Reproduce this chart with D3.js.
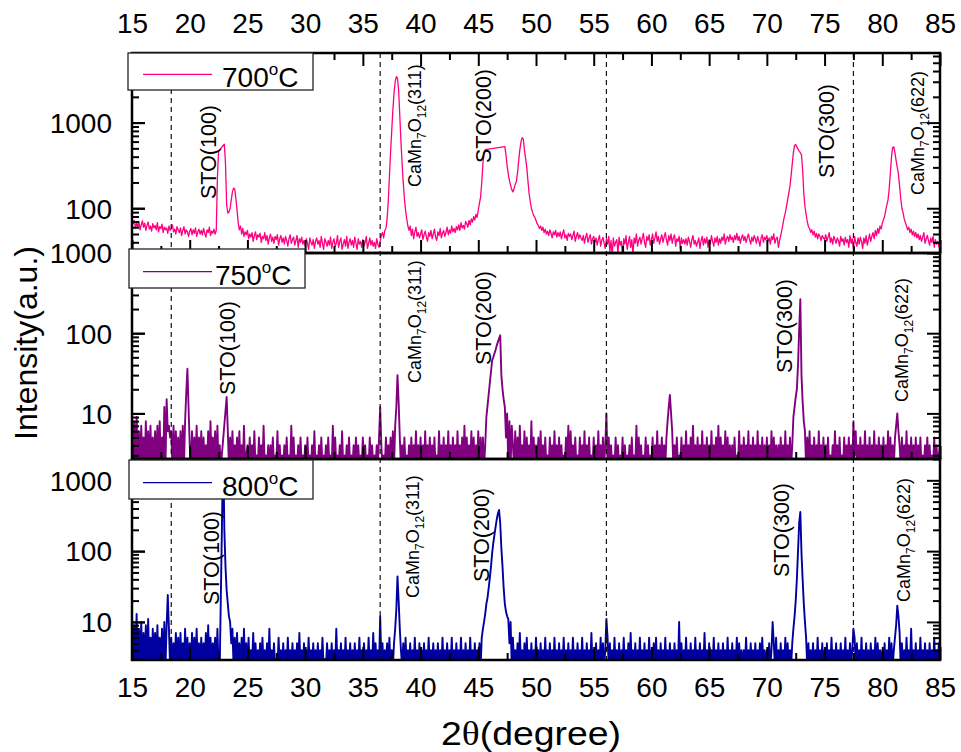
<!DOCTYPE html>
<html><head><meta charset="utf-8">
<script src="https://cdn.jsdelivr.net/npm/d3@7"></script>
<style>
body{margin:0;background:#fff}
svg{display:block;font-family:"Liberation Sans",Arial,Helvetica,sans-serif}
</style>
</head><body>
<svg id="chart" width="961" height="752"></svg>
<script>
// ---------------- DATA ----------------
// sampling grid: each row = one degree (x.0 ... x.9), last row = 85.0
const angleStart = 15, angleStep = 0.1;
const xMajorTicks = [15,20,25,30,35,40,45,50,55,60,65,70,75,80,85];
const xMinorTicks = [17.5,22.5,27.5,32.5,37.5,42.5,47.5,52.5,57.5,62.5,67.5,72.5,77.5,82.5];
const seriesNames = ["700", "750", "800"];
const yLabelTicks700 = [100, 1000];
const yLabelTicks750 = [10, 100, 1000];
const yLabelTicks800 = [10, 100, 1000];
const dashedAngles = [18.4, 36.5, 56.1, 77.5];
const labelSTO100 = [["STO(100)",0]];
const labelSTO200 = [["STO(200)",0]];
const labelSTO300 = [["STO(300)",0]];
const labelCaMn311 = [["CaMn",0],["7",1],["O",0],["12",1],["(311)",0]];
const labelCaMn622 = [["CaMn",0],["7",1],["O",0],["12",1],["(622)",0]];

const intensity700 = [
[80,66,72,58,68,60,70,56,64,71],
[60,67,55,63,69,57,62,54,66,59],
[63,56,68,53,61,58,65,52,60,56],
[59,51,62,55,58,64,53,57,50,61],
[56,52,59,48,55,61,50,56,53,47],
[54,58,49,56,51,59,47,53,57,50],
[55,49,58,51,46,56,52,60,48,54],
[51,57,50,55,230,460,480,500,520,540],
[560,330,110,88,90,100,125,155,172,168],
[130,95,68,56,62,50,58,47,53,49],
[55,44,50,46,52,41,48,53,43,49],
[46,51,40,47,44,52,42,48,38,45],
[50,41,46,39,47,43,49,37,44,48],
[40,45,38,47,42,36,44,49,39,43],
[46,37,42,48,35,44,40,46,38,42],
[36,44,39,33,45,40,37,43,34,41],
[45,38,42,35,47,39,33,44,40,36],
[42,37,46,34,40,44,36,39,48,35],
[41,45,33,38,43,36,47,34,40,44],
[37,42,35,46,39,33,44,38,41,35],
[43,36,40,47,34,39,45,37,42,36],
[40,34,44,38,35,41,48,52,45,55],
[58,75,120,230,450,800,1400,2200,3000,3450],
[3300,2400,1200,600,330,200,130,95,75,62],
[55,62,48,57,44,53,60,47,52,45],
[50,56,43,49,54,46,41,52,47,55],
[44,50,57,46,42,53,48,58,45,51],
[55,47,52,60,49,56,51,62,53,58],
[52,61,56,64,55,68,59,63,57,70],
[66,60,72,64,75,69,80,73,85,78],
[95,115,135,200,330,440,484,null,null,null],
[null,null,null,null,null,null,null,null,null,null],
[null,null,null,525,420,310,250,210,185,165],
[155,170,190,205,260,360,480,600,667,640],
[480,380,300,210,150,120,100,90,82,78],
[72,66,63,58,62,55,60,52,57,50],
[54,48,56,51,45,53,49,55,46,52],
[47,53,44,50,56,45,49,42,51,47],
[50,43,48,54,41,47,52,44,49,45],
[42,48,39,46,51,40,45,49,38,44],
[47,40,45,37,43,48,36,42,46,39],
[34,44,38,47,31,42,28,45,36,40],
[43,30,46,37,41,27,44,38,48,33],
[40,47,35,43,29,45,39,50,36,42],
[46,38,44,51,40,35,47,42,49,37],
[43,50,39,45,53,41,47,38,44,49],
[40,46,52,43,37,48,42,50,39,45],
[49,36,44,41,47,34,45,39,43,38],
[44,37,46,41,35,43,48,38,42,36],
[40,45,34,42,47,37,44,39,46,35],
[43,38,48,41,36,45,40,47,37,44],
[39,46,42,50,38,44,47,41,49,43],
[46,40,48,43,51,42,47,39,45,49],
[42,47,40,45,50,43,38,46,41,48],
[44,39,47,42,36,45,49,40,46,43],
[48,41,45,38,47,43,50,39,44,46],
[35,42,48,56,66,78,89,105,125,150],
[180,240,330,450,540,555,520,490,465,445],
[420,280,150,105,85,70,61,58,52,56],
[49,54,46,51,44,50,47,42,48,45],
[43,49,41,46,52,40,45,38,47,43],
[39,45,42,36,47,41,44,37,46,40],
[43,35,48,39,44,33,47,40,36,45],
[38,46,41,34,45,39,48,37,43,50],
[41,47,52,44,55,48,58,51,62,57],
[66,74,80,95,110,126,170,260,400,510],
[520,440,360,300,250,180,130,100,89,75],
[68,62,56,60,52,57,49,54,47,52],
[45,50,43,48,41,46,52,39,44,48],
[42,37,45,40,47,35,43,38,41,36],
[33]
];

const intensity750 = [
[10,1,8,2,9,1,6,1,7,2],
[5,1,8,1,6,2,7,1,5,1],
[6,2,7,1,8,1,5,2,12,1],
[15,6,7,5,6,1,7,2,6,1],
[5,2,6,1,7,2,8,18,36,12],
[4,1,6,2,5,1,7,2,5,1],
[6,2,5,1,4,2,6,1,8,2],
[5,1,6,2,7,1,4,1,null,null],
[null,null,16,6,1,5,2,6,1,4],
[2,5,1,6,1,4,2,7,1,3],
[4,1,5,2,4,1,6,1,3,2],
[5,1,4,2,7,1,3,1,4,2],
[4,1,5,1,3,2,6,1,4,1],
[3,2,4,1,5,1,3,1,7,2],
[5,1,3,2,4,1,5,1,3,1],
[4,2,5,1,3,1,4,2,6,1],
[3,1,4,2,5,1,3,1,4,2],
[5,1,3,1,7,2,5,1,3,1],
[4,2,6,1,3,1,4,2,5,1],
[3,1,4,2,5,1,4,1,3,2],
[5,1,4,1,3,2,5,1,4,1],
[3,2,4,1,5,12,4,1,3,2],
[5,1,4,2,5,1,6,2,7,12],
[30,14,5,1,4,2,5,1,3,2],
[4,1,5,2,4,1,6,1,4,2],
[5,1,4,1,6,2,4,1,5,1],
[4,2,5,1,3,1,6,2,4,1],
[5,1,4,2,6,1,4,1,5,2],
[4,1,6,1,4,2,5,1,7,1],
[5,2,4,1,6,1,5,2,4,1],
[6,1,5,2,5,1,4,9,null,null],
[null,null,46,50,56,62,70,78,86,94],
[30,20,15,12,5,10,2,8,1,7],
[4,1,6,2,5,1,7,1,4,2],
[6,1,5,1,4,2,8,1,5,1],
[4,2,5,1,6,1,4,2,5,1],
[3,1,5,2,4,1,6,1,4,2],
[5,1,4,1,3,2,5,1,7,1],
[6,2,4,1,5,1,3,2,5,1],
[4,1,6,1,4,2,5,1,3,1],
[5,2,4,1,6,1,4,2,5,1],
[4,10,1,5,2,4,1,3,2,5],
[1,4,2,3,1,5,1,4,2,3],
[1,4,1,5,2,3,1,7,1,5],
[2,4,1,3,1,5,2,4,1,3],
[1,5,2,4,1,6,1,4,2,5],
[1,4,2,5,8,12,17,10,6,1],
[4,2,5,1,3,1,5,2,4,1],
[6,1,4,2,5,1,7,1,4,2],
[5,1,4,1,6,2,4,1,5,1],
[4,2,6,1,4,1,5,2,7,1],
[5,1,4,2,6,1,5,1,4,2],
[4,1,5,1,3,2,6,1,4,1],
[5,2,4,1,6,1,4,2,5,1],
[4,1,6,2,4,1,5,1,4,2],
[5,1,4,1,6,2,5,1,4,1],
[4,2,5,1,4,1,6,2,4,1],
[5,1,4,9,12,16,20,40,110,265],
[30,14,8,6,2,5,1,6,2,4],
[1,5,2,4,1,6,1,4,2,5],
[1,4,1,5,2,3,1,4,1,6],
[2,4,1,5,1,3,2,5,1,4],
[1,5,2,4,1,8,3,6,2,4],
[1,5,1,4,2,6,1,4,2,5],
[1,4,2,6,1,4,1,5,2,4],
[1,5,2,4,1,6,2,5,1,4],
[2,5,7,10,6,4,1,5,2,4],
[1,6,2,4,1,5,1,4,2,5],
[1,4,2,5,1,3,1,4,2,5],
[1,4,1,3,2,5,1,4,1,3],
[4]
];

const intensity800 = [
[12,1,9,2,13,1,8,2,10,1],
[7,2,9,1,11,1,6,2,8,1],
[7,1,9,2,6,1,8,2,10,1],
[9,24,8,1,6,2,5,1,7,2],
[6,1,7,2,5,1,8,1,6,2],
[5,1,7,1,6,2,8,1,5,2],
[6,1,5,2,7,1,9,1,6,2],
[5,1,6,2,8,1,1,null,null,3000],
[200,60,28,18,12,10,5,8,2,6],
[1,7,2,5,1,6,1,8,2,5],
[1,6,1,4,2,7,1,5,1,4],
[2,5,1,6,1,4,2,5,1,8],
[1,4,2,5,1,3,1,6,2,4],
[1,5,1,4,2,6,1,4,1,5],
[2,4,1,5,1,7,2,4,1,5],
[1,4,2,6,1,4,1,5,2,4],
[1,5,1,4,2,6,1,3,1,5],
[2,4,1,5,1,4,2,8,1,4],
[1,5,2,4,1,6,1,4,2,5],
[1,4,1,5,2,4,1,6,1,4],
[2,5,1,4,1,6,2,4,1,7],
[1,5,2,4,1,12,3,5,2,4],
[1,5,2,6,1,4,2,5,8,15],
[44,20,8,4,1,5,2,6,1,4],
[2,5,1,4,1,6,2,4,1,5],
[1,4,2,5,1,4,1,6,2,4],
[1,5,1,4,2,5,1,4,1,6],
[2,4,1,5,1,4,2,6,1,4],
[1,5,2,4,1,6,1,4,2,5],
[1,4,1,6,2,4,1,5,1,4],
[2,5,1,6,8,10,13,18,22,30],
[42,60,94,130,170,220,280,340,381,250],
[110,60,30,18,14,12,11,5,10,1],
[6,2,4,1,5,1,7,2,4,1],
[5,1,6,2,4,1,5,1,4,2],
[6,1,4,1,5,2,4,1,6,1],
[4,2,5,1,4,1,6,2,4,1],
[5,1,4,2,6,1,4,1,5,2],
[4,1,6,1,4,2,5,1,4,1],
[6,2,4,1,5,1,4,2,7,1],
[4,1,5,2,4,1,6,1,5,2],
[4,11,6,1,5,2,4,1,6,1],
[4,2,5,1,4,1,6,2,4,1],
[5,1,7,2,4,1,5,1,4,2],
[6,1,4,1,5,2,4,1,6,1],
[4,2,5,1,6,1,4,2,5,1],
[4,1,6,2,4,1,5,1,4,2],
[5,1,4,1,10,2,5,1,4,1],
[6,2,4,1,5,1,4,2,6,1],
[4,1,5,2,4,1,7,1,4,2],
[5,1,4,1,6,2,4,1,5,1],
[4,2,5,1,4,1,6,2,4,1],
[5,1,4,2,6,1,5,1,4,2],
[4,1,6,1,4,2,5,1,4,1],
[5,2,4,1,5,1,6,2,4,1],
[4,1,5,2,4,10,5,1,6,2],
[4,1,5,1,4,2,6,1,5,1],
[4,2,5,8,12,20,40,100,250,357],
[94,40,18,10,6,1,5,2,4,1],
[5,2,4,1,6,1,4,2,5,1],
[4,1,5,1,4,2,6,1,4,1],
[5,2,4,1,5,1,4,2,6,1],
[4,1,5,2,4,8,6,1,5,2],
[4,1,6,1,4,2,5,1,4,1],
[5,2,4,1,6,1,5,2,4,1],
[4,1,5,1,4,2,6,1,5,2],
[4,6,9,17,12,7,1,5,2,4],
[1,6,2,4,1,8,1,4,2,5],
[1,4,2,6,1,4,1,5,2,4],
[1,5,1,4,2,6,1,4,1,5],
[3]
];

// ---------------- LAYOUT / STYLE ----------------
const plotLeft = 132, plotRight = 940;
const colors = {"700":"#ff0080", "750":"#800080", "800":"#0000a0"};
const lineWidths = {"700":1.3, "750":1.9, "800":1.9};
const panels = [
  {name:"700", data:intensity700, top:53,  bottom:253, domain:[30,6500], labelTicks:yLabelTicks700,
   legend:{x:128,y:53,w:185,h:37,textX:222},
   ann:[{parts:labelSTO100,a:22.28,y:199},{parts:labelCaMn311,a:40.05,y:187},{parts:labelSTO200,a:46.1,y:163},{parts:labelSTO300,a:75.82,y:178},{parts:labelCaMn622,a:83.6,y:195}]},
  {name:"750", data:intensity750, top:253, bottom:459, domain:[2.7,1000], labelTicks:yLabelTicks750,
   legend:{x:129,y:249,w:176,h:39,textX:215},
   ann:[{parts:labelSTO100,a:23.92,y:395},{parts:labelCaMn311,a:40.05,y:383},{parts:labelSTO200,a:46.1,y:365},{parts:labelSTO300,a:72.18,y:373},{parts:labelCaMn622,a:82.2,y:402}]},
  {name:"800", data:intensity800, top:459, bottom:660, domain:[2.9,2000], labelTicks:yLabelTicks800,
   legend:{x:129,y:460,w:184,h:39,textX:222},
   ann:[{parts:labelSTO100,a:22.54,y:605},{parts:labelCaMn311,a:39.9,y:598},{parts:labelSTO200,a:45.93,y:582},{parts:labelSTO300,a:71.92,y:577},{parts:labelCaMn622,a:82.4,y:602}]}
];

const svg = d3.select("#chart");
const x = d3.scaleLinear().domain([15,85]).range([plotLeft, plotRight]);

function toPoints(rows){
  const pts = [];
  rows.forEach((row,i)=>row.forEach((v,j)=>{
    if (v !== null) pts.push([angleStart + i + j*angleStep, v]);
  }));
  return pts;
}
function minorLog(domain){
  const out = [];
  for (let p = 0; p <= 4; p++) for (let m = 2; m <= 9; m++) {
    const v = m*Math.pow(10,p);
    if (v >= domain[0] && v <= domain[1]) out.push(v);
  }
  return out;
}
function majorLog(domain){
  const out = [];
  for (let p = 0; p <= 4; p++){ const v = Math.pow(10,p); if (v >= domain[0]-1e-9 && v <= domain[1]+1e-9) out.push(v); }
  return out;
}
function styleAxis(g, showText){
  g.select(".domain").remove();
  g.selectAll(".tick line").attr("stroke","#000").attr("stroke-width",2);
  g.selectAll(".tick text").attr("fill","#000").attr("font-size",28)
    .attr("font-family",'"Liberation Sans",Arial,sans-serif');
  if (!showText) g.selectAll(".tick text").remove();
}

const defs = svg.append("defs");

// data lines
panels.forEach(p => {
  const y = d3.scaleLog().domain(p.domain).range([p.bottom, p.top]);
  p.y = y;
  const cid = "clip" + p.name;
  defs.append("clipPath").attr("id", cid).append("rect")
    .attr("x", plotLeft).attr("y", p.top).attr("width", plotRight-plotLeft).attr("height", p.bottom-p.top);
  const floorV = p.domain[0]*0.8;   // points below the axis are drawn just under the frame (clipped)
  const line = d3.line().x(d=>x(d[0])).y(d=>y(Math.max(d[1], floorV)));
  svg.append("path").datum(toPoints(p.data))
    .attr("clip-path", `url(#${cid})`)
    .attr("fill","none").attr("stroke", colors[p.name]).attr("stroke-width", lineWidths[p.name])
    .attr("stroke-linejoin","round")
    .attr("d", line);
});

// dashed reference lines (full height, over data)
svg.append("g").selectAll("line").data(dashedAngles).join("line")
  .attr("x1", d=>x(d)).attr("x2", d=>x(d))
  .attr("y1", panels[0].top).attr("y2", panels[2].bottom)
  .attr("stroke","#111").attr("stroke-width",1.2).attr("stroke-dasharray","5,4");

panels.forEach((p, idx) => {
  const y = p.y;
  // left axis
  const gl = svg.append("g").attr("transform",`translate(${plotLeft},0)`)
    .call(d3.axisLeft(y).tickValues(p.labelTicks).tickSize(-13).tickPadding(20).tickFormat(d3.format("d")));
  styleAxis(gl, true);
  gl.selectAll(".tick text").attr("dy","0.35em");
  const glm = svg.append("g").attr("transform",`translate(${plotLeft},0)`)
    .call(d3.axisLeft(y).tickValues(minorLog(p.domain)).tickSize(-7).tickFormat(""));
  styleAxis(glm, false);
  const glM = svg.append("g").attr("transform",`translate(${plotLeft},0)`)
    .call(d3.axisLeft(y).tickValues(majorLog(p.domain)).tickSize(-13).tickFormat(""));
  styleAxis(glM, false);
  // right axis
  const gr = svg.append("g").attr("transform",`translate(${plotRight},0)`)
    .call(d3.axisRight(y).tickValues(majorLog(p.domain)).tickSize(-13).tickFormat(""));
  styleAxis(gr, false);
  const grm = svg.append("g").attr("transform",`translate(${plotRight},0)`)
    .call(d3.axisRight(y).tickValues(minorLog(p.domain)).tickSize(-7).tickFormat(""));
  styleAxis(grm, false);

  // bottom ticks of each panel (inward)
  const gb = svg.append("g").attr("transform",`translate(0,${p.bottom})`)
    .call(d3.axisBottom(x).tickValues(xMajorTicks).tickSize(-13).tickPadding(35).tickFormat(d3.format("d")));
  styleAxis(gb, idx === 2);
  if (idx === 2) gb.selectAll(".tick text").attr("dy","0em").attr("y", 37);
  const gbm = svg.append("g").attr("transform",`translate(0,${p.bottom})`)
    .call(d3.axisBottom(x).tickValues(xMinorTicks).tickSize(-7).tickFormat(""));
  styleAxis(gbm, false);

  if (idx === 0) {
    const gt = svg.append("g").attr("transform",`translate(0,${p.top})`)
      .call(d3.axisTop(x).tickValues(xMajorTicks).tickSize(-13).tickPadding(20).tickFormat(d3.format("d")));
    styleAxis(gt, true);
    const gtm = svg.append("g").attr("transform",`translate(0,${p.top})`)
      .call(d3.axisTop(x).tickValues(xMinorTicks).tickSize(-7).tickFormat(""));
    styleAxis(gtm, false);
  }

  // frame
  svg.append("rect").attr("x", plotLeft).attr("y", p.top)
    .attr("width", plotRight-plotLeft).attr("height", p.bottom-p.top)
    .attr("fill","none").attr("stroke","#000").attr("stroke-width",2.5);

  // peak annotations (rotated)
  p.ann.forEach(a => {
    const isSTO = a.parts.length === 1;
    const t = svg.append("text")
      .attr("transform", `translate(${x(a.a)},${a.y}) rotate(-90)`)
      .attr("font-size", isSTO ? 21.5 : 18).attr("fill","#000");
    let shifted = false;
    a.parts.forEach(([s, sub]) => {
      const ts = t.append("tspan").text(s);
      if (sub) { ts.attr("font-size", 12).attr("dy", shifted ? 0 : 5); shifted = true; }
      else if (shifted) { ts.attr("dy", -5); shifted = false; }
    });
  });
});

// legends
panels.forEach(p => {
  const L = p.legend;
  const g = svg.append("g");
  g.append("rect").attr("x", L.x).attr("y", L.y).attr("width", L.w).attr("height", L.h)
    .attr("fill","#fff").attr("stroke","#222").attr("stroke-width",1.3);
  const cy = L.y + L.h*0.58;
  g.append("line").attr("x1", 143).attr("x2", 212).attr("y1", cy).attr("y2", cy)
    .attr("stroke", colors[p.name]).attr("stroke-width",1.3);
  const t = g.append("text").attr("x", L.textX).attr("y", L.y + L.h - 3.5)
    .attr("font-size", 28).attr("fill","#000");
  t.append("tspan").text(p.name);
  t.append("tspan").text("o").attr("font-size", 17).attr("dy", -12);
  t.append("tspan").text("C").attr("dy", 12);
});

// axis titles
svg.append("text").attr("transform","translate(37,343) rotate(-90)")
  .attr("text-anchor","middle").attr("font-size",32).attr("fill","#000")
  .text("Intensity(a.u.)");
const xt = svg.append("text").attr("x", 531).attr("y", 745)
  .attr("text-anchor","middle").attr("font-size",33).attr("fill","#000")
  .attr("textLength", 180).attr("lengthAdjust","spacingAndGlyphs");
xt.append("tspan").text("2");
xt.append("tspan").text("θ").attr("font-family",'"Liberation Serif","DejaVu Serif",serif');
xt.append("tspan").text("(degree)");
</script>
</body></html>
